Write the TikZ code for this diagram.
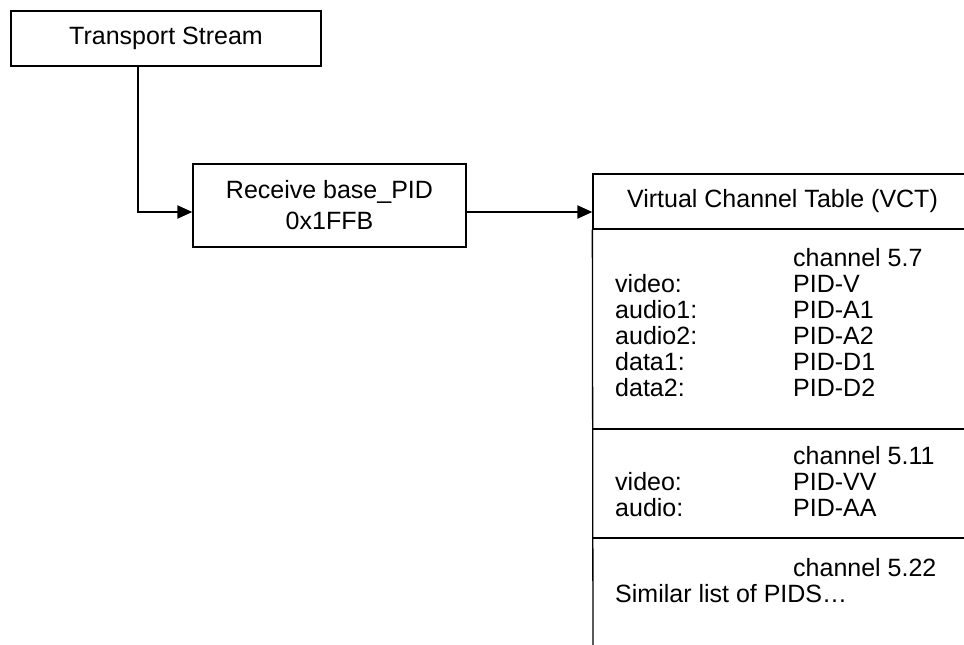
\documentclass[tikz,border=0pt]{standalone}
\usepackage{fontspec}
\setmainfont{Liberation Sans}
\usetikzlibrary{arrows.meta}
\begin{document}
\begin{tikzpicture}[x=1pt,y=-1pt,
  box/.style={draw, line width=1.3pt, inner sep=0pt, align=center,
    font=\fontsize{25}{31}\selectfont},
  rule/.style={line width=1.3pt},
  arr/.style={line width=2.2pt, -{Triangle[length=15pt,width=13pt]}},
  txt/.style={anchor=base west, inner sep=0pt, font=\fontsize{25}{30}\selectfont}]
\useasboundingbox (0,0) rectangle (964,645);
% boxes
\node[box, minimum width=310pt, minimum height=55pt] (ts) at (166,38.5) {Transport Stream};
\node[box, minimum width=273pt, minimum height=83pt] (rb) at (329.5,205.5) {Receive base\_PID\\0x1FFB};
\node[box, minimum width=379pt, minimum height=55pt] (vct) at (782.5,201.5) {Virtual Channel Table (VCT)};
% table body
\coordinate (vbot) at (593,650);
\draw[rule] (vct.south west) -- (vbot);
\coordinate (s2l) at (593,429); \coordinate (s2r) at (972,429);
\coordinate (s3l) at (593,538); \coordinate (s3r) at (972,538);
\draw[rule] (s2l) -- (s2r);
\draw[rule] (s3l) -- (s3r);
% connectors
\draw[arr] ([xshift=-28pt]ts.south) |- ([yshift=-6.5pt]rb.west);
\draw[arr] ([yshift=-6.5pt]rb.east) -- ([yshift=-10.5pt]vct.west);
% channel 5.7
\node[txt] (c57) at (793,266) {channel 5.7};
\node[txt] (l1) at (615,292) {video:};   \node[txt] (v1) at (793,292) {PID-V};
\node[txt] (l2) at (615,318) {audio1:};  \node[txt] (v2) at (793,318) {PID-A1};
\node[txt] (l3) at (615,344) {audio2:};  \node[txt] (v3) at (793,344) {PID-A2};
\node[txt] (l4) at (615,370) {data1:};   \node[txt] (v4) at (793,370) {PID-D1};
\node[txt] (l5) at (615,396) {data2:};   \node[txt] (v5) at (793,396) {PID-D2};
% channel 5.11
\node[txt] (c511) at (793,464) {channel 5.11};
\node[txt] (l6) at (615,490) {video:};   \node[txt] (v6) at (793,490) {PID-VV};
\node[txt] (l7) at (615,516) {audio:};   \node[txt] (v7) at (793,516) {PID-AA};
% channel 5.22
\node[txt] (c522) at (793,576) {channel 5.22};
\node[txt] (sim) at (615,602) {Similar list of PIDS…};
\end{tikzpicture}
\end{document}
